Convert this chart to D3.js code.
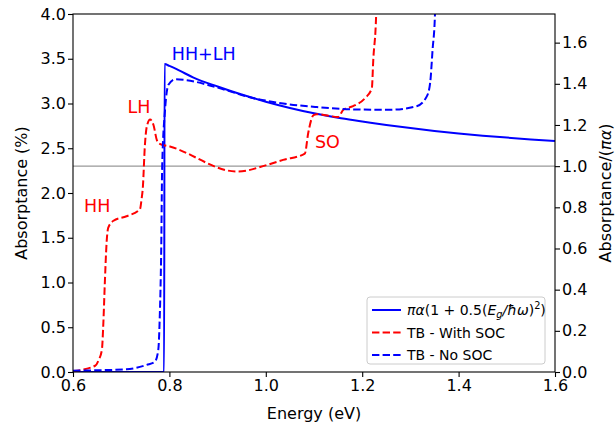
<!DOCTYPE html>
<html lang="en">
<head>
<meta charset="utf-8">
<title>Absorptance</title>
<script src="https://d3js.org/d3.v7.min.js"></script>
<style>
  body { margin: 0; background: #fff; }
  text { font-family: "DejaVu Sans", sans-serif; }
</style>
</head>
<body>
<script>
// values
var energyTicks = [0.6, 0.8, 1.0, 1.2, 1.4, 1.6];
var leftTicks = [0, 0.5, 1, 1.5, 2, 2.5, 3, 3.5, 4];
var rightTicks = [0, 0.2, 0.4, 0.6, 0.8, 1.0, 1.2, 1.4, 1.6];
var piAlpha = 2.3; // the grey reference line, right axis = 1.0

var modelE = [0.6, 0.789, 0.79, 0.80, 0.82, 0.85, 0.90, 0.95, 1.00, 1.05, 1.10, 1.15, 1.20, 1.25, 1.30, 1.35, 1.40, 1.45, 1.50, 1.55, 1.60];
var modelA = [0, 0, 3.44, 3.42, 3.37, 3.29, 3.19, 3.10, 3.02, 2.95, 2.89, 2.84, 2.80, 2.76, 2.725, 2.694, 2.666, 2.641, 2.619, 2.599, 2.58];

var socE = [0.600, 0.646, 0.653, 0.660, 0.663, 0.666, 0.670, 0.673, 0.684, 0.711, 0.739, 0.742, 0.745, 0.749, 0.753, 0.760, 0.767, 0.774, 0.780, 0.801, 0.940, 0.960, 0.988, 1.036, 1.081, 1.088, 1.099, 1.106, 1.150, 1.161, 1.181, 1.206, 1.220, 1.223, 1.229, 1.231];
var socA = [0.01, 0.07, 0.13, 0.25, 0.55, 0.99, 1.47, 1.61, 1.69, 1.74, 1.82, 1.92, 2.07, 2.52, 2.74, 2.82, 2.76, 2.59, 2.55, 2.52, 2.24, 2.25, 2.29, 2.37, 2.44, 2.67, 2.87, 2.88, 2.85, 2.93, 2.97, 3.06, 3.17, 3.49, 4.0, 4.5];

var noSocE = [0.600, 0.711, 0.753, 0.770, 0.777, 0.780, 0.783, 0.785, 0.791, 0.798, 0.812, 0.836, 0.898, 0.967, 1.036, 1.106, 1.175, 1.258, 1.313, 1.334, 1.341, 1.346, 1.351, 1.353];
var noSocA = [0.015, 0.03, 0.08, 0.115, 0.25, 0.62, 1.36, 2.29, 2.93, 3.21, 3.27, 3.26, 3.18, 3.07, 3.00, 2.96, 2.935, 2.93, 2.97, 3.08, 3.23, 3.60, 4.0, 4.5];

var labels = [
  {text: "HH+LH", e: 0.805, a: 3.49, color: "blue"},
  {text: "LH", e: 0.713, a: 2.89, color: "red"},
  {text: "HH", e: 0.623, a: 1.79, color: "red"},
  {text: "SO", e: 1.102, a: 2.50, color: "red"}
];

var w = 616, h = 425;
var mLeft = 73, mRight = 555, mTop = 14, mBottom = 372;

var svg = d3.select("body").append("svg")
  .attr("width", w).attr("height", h);

var x = d3.scaleLinear().domain([0.6, 1.6]).range([mLeft, mRight]);
var y = d3.scaleLinear().domain([0, 4]).range([mBottom, mTop]);
var y2 = d3.scaleLinear().domain([0, 4 / piAlpha]).range([mBottom, mTop]);

svg.append("clipPath").attr("id", "plot")
  .append("rect").attr("x", mLeft).attr("y", mTop)
  .attr("width", mRight - mLeft).attr("height", mBottom - mTop);

var g = svg.append("g").attr("clip-path", "url(#plot)");

// grey line at pi*alpha
g.append("line")
  .attr("x1", mLeft).attr("x2", mRight)
  .attr("y1", y(piAlpha)).attr("y2", y(piAlpha))
  .attr("stroke", "#999").attr("stroke-width", 1.1);

function draw(es, as, color, dashed) {
  var line = d3.line()
    .x(function(d, i){ return x(es[i]); })
    .y(function(d, i){ return y(as[i]); })
    .curve(d3.curveMonotoneX);
  g.append("path")
    .attr("d", line(es))
    .attr("fill", "none")
    .attr("stroke", color)
    .attr("stroke-width", 2)
    .attr("stroke-dasharray", dashed ? "7.4,3.2" : null);
}

draw(modelE, modelA, "blue", false);
draw(socE, socA, "red", true);
draw(noSocE, noSocA, "blue", true);

// annotations
svg.selectAll("text.note")
  .data(labels)
  .enter()
  .append("text")
  .attr("class", "note")
  .attr("x", function(d){ return x(d.e); })
  .attr("y", function(d){ return y(d.a); })
  .attr("fill", function(d){ return d.color; })
  .style("font-size", "17.5px")
  .text(function(d){ return d.text; });

// axes
var fmt = d3.format(".1f");
var xAxis = svg.append("g").attr("transform", "translate(0," + mBottom + ")")
  .call(d3.axisBottom(x).tickValues(energyTicks).tickFormat(fmt).tickSize(5).tickSizeOuter(0));
var yAxis = svg.append("g").attr("transform", "translate(" + mLeft + ",0)")
  .call(d3.axisLeft(y).tickValues(leftTicks).tickFormat(fmt).tickSize(5).tickSizeOuter(0));
var yAxis2 = svg.append("g").attr("transform", "translate(" + mRight + ",0)")
  .call(d3.axisRight(y2).tickValues(rightTicks).tickFormat(fmt).tickSize(5).tickSizeOuter(0));

[xAxis, yAxis, yAxis2].forEach(function(a){
  a.selectAll("text").style("font-size", "16px").attr("fill", "#000")
    .style("font-family", "DejaVu Sans");
  a.selectAll("line").attr("stroke", "#000").attr("stroke-width", 1.1);
  a.select(".domain").remove();
});
xAxis.selectAll("text").attr("dy", "0.71em").attr("y", 8);
yAxis.selectAll("text").attr("x", -7);
yAxis2.selectAll("text").attr("x", 7);

// frame
svg.append("rect")
  .attr("x", mLeft).attr("y", mTop)
  .attr("width", mRight - mLeft).attr("height", mBottom - mTop)
  .attr("fill", "none").attr("stroke", "#000").attr("stroke-width", 1.1);

// axis titles
svg.append("text")
  .attr("x", (mLeft + mRight) / 2).attr("y", 419)
  .attr("text-anchor", "middle").style("font-size", "16px")
  .text("Energy (eV)");

svg.append("text")
  .attr("transform", "translate(27," + (mTop + mBottom) / 2 + ") rotate(-90)")
  .attr("text-anchor", "middle").style("font-size", "16px")
  .text("Absorptance (%)");

var rl = svg.append("text")
  .attr("transform", "translate(611," + (mTop + mBottom) / 2 + ") rotate(-90)")
  .attr("text-anchor", "middle").style("font-size", "16px");
rl.append("tspan").text("Absorptance/(");
rl.append("tspan").style("font-style", "italic").text("πα");
rl.append("tspan").text(")");

// legend
var lg = svg.append("g").attr("transform", "translate(367,297)");
lg.append("rect")
  .attr("width", 178).attr("height", 67).attr("rx", 3)
  .attr("fill", "#fff").attr("fill-opacity", 0.8)
  .attr("stroke", "#ccc").attr("stroke-width", 1);

var entries = [
  {color: "blue", dash: null},
  {color: "red", dash: "7.4,3.2"},
  {color: "blue", dash: "7.4,3.2"}
];
entries.forEach(function(d, i){
  var yy = 13 + i * 22.5;
  lg.append("line")
    .attr("x1", 5).attr("x2", 34).attr("y1", yy).attr("y2", yy)
    .attr("stroke", d.color).attr("stroke-width", 2)
    .attr("stroke-dasharray", d.dash);
});

var t0 = lg.append("text").attr("x", 40).attr("y", 18).style("font-size", "14px");
t0.append("tspan").style("font-style", "italic").text("πα");
t0.append("tspan").text("(1 + 0.5(");
t0.append("tspan").style("font-style", "italic").text("E");
t0.append("tspan").style("font-style", "italic").style("font-size", "9.8px").attr("dy", 3).text("g");
t0.append("tspan").attr("dy", -3).style("font-style", "italic").text("/ħω");
t0.append("tspan").text(")");
t0.append("tspan").style("font-size", "9.8px").attr("dy", -6).text("2");
t0.append("tspan").attr("dy", 6).text(")");

lg.append("text").attr("x", 40).attr("y", 40.5).style("font-size", "14px").text("TB - With SOC");
lg.append("text").attr("x", 40).attr("y", 63).style("font-size", "14px").text("TB - No SOC");
</script>
</body>
</html>
